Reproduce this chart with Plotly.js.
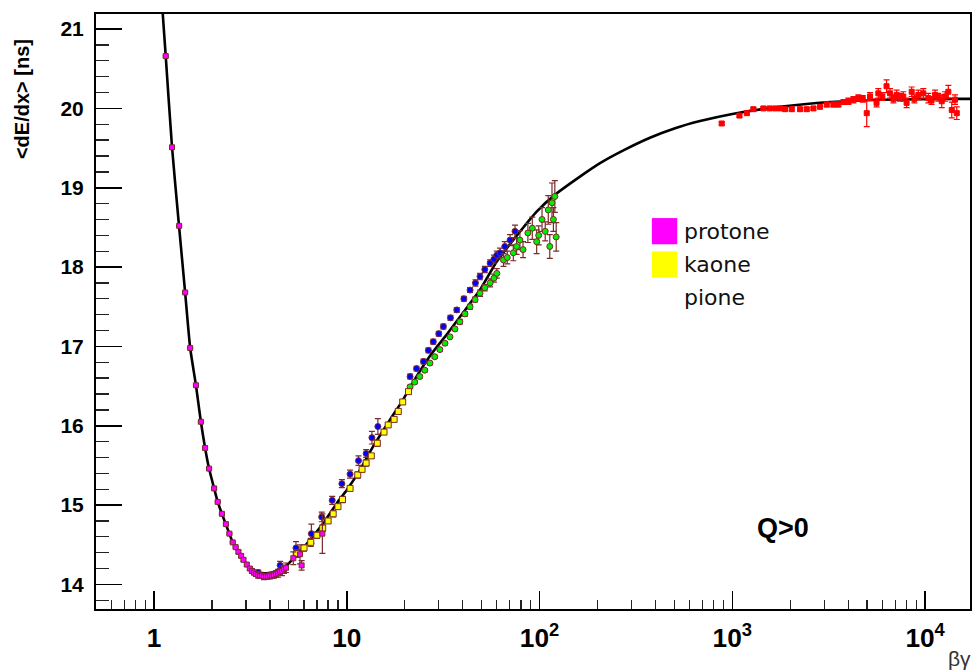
<!DOCTYPE html>
<html>
<head>
<meta charset="utf-8">
<script src="https://cdn.plot.ly/plotly-3.0.1.min.js"></script>
<style>html,body{margin:0;padding:0;background:#fff;}#chart{width:975px;height:670px;}</style>
</head>
<body>
<div id="chart"></div>
<script>
// ---- Data ----
// Bethe-Bloch fit curve
var curveBG  = [1.110,1.150,1.240,1.348,1.45,1.54,1.65,1.75,1.84,1.93,2.05,2.14,2.25,2.46,2.56,2.74,2.91,3.14,3.47,3.84,4.33,4.88,5.50,6.44,7.55,8.86,10.0,11.7,13.7,16.7,19.6,22.2,27,33,40,49,60,75.2,96.6,120,162,206,277,374,505,680,1000,1770,3215,5840,14660,17300];
var curveVal = [21.19,20.66,19.51,18.52,17.68,16.98,16.51,16.05,15.72,15.46,15.21,15.04,14.89,14.64,14.53,14.41,14.31,14.20,14.15,14.14,14.17,14.24,14.37,14.56,14.77,15.02,15.19,15.44,15.74,16.07,16.33,16.56,16.88,17.15,17.42,17.71,18.07,18.38,18.70,18.91,19.14,19.31,19.48,19.63,19.75,19.84,19.93,20.02,20.08,20.11,20.12,20.12];

// protone (magenta)
var protonBG  = [1.15,1.24,1.35,1.45,1.54,1.65,1.75,1.84,1.93,2.05,2.14,2.25,2.36,2.46,2.56,2.65,2.74,2.83,2.91,3.03,3.14,3.22,3.30,3.38,3.47,3.55,3.63,3.72,3.81,3.90,4.00,4.10,4.19,4.30,4.40,4.50,4.61,4.72,4.84,5.28,5.72,5.83,7.47];
var protonVal = [20.66,19.51,18.52,17.68,16.98,16.51,16.05,15.72,15.46,15.21,15.04,14.89,14.76,14.64,14.53,14.47,14.41,14.36,14.31,14.25,14.20,14.17,14.15,14.13,14.12,14.11,14.11,14.10,14.10,14.10,14.11,14.11,14.12,14.13,14.14,14.16,14.17,14.19,14.21,14.33,14.38,14.24,14.64];
var protonErr = [0.01,0.01,0.01,0.01,0.01,0.01,0.01,0.01,0.01,0.01,0.01,0.01,0.01,0.01,0.01,0.01,0.02,0.02,0.02,0.02,0.02,0.03,0.03,0.03,0.04,0.03,0.03,0.04,0.03,0.03,0.04,0.03,0.04,0.04,0.05,0.04,0.06,0.05,0.06,0.08,0.12,0.06,0.25];

// kaone (yellow)
var kaonBG  = [5.5,6.0,6.5,7.0,7.5,8.0,8.5,9.0,9.5,10.4,11.4,12.0,12.6,13.4,14.4,15.6,16.4,17.6,18.5,19.5,20.9];
var kaonVal = [14.39,14.46,14.53,14.62,14.71,14.80,14.89,14.98,15.07,15.21,15.38,15.45,15.53,15.62,15.78,15.92,16.01,16.08,16.18,16.30,16.43];
var kaonErr = [0.05,0.04,0.05,0.04,0.04,0.03,0.04,0.03,0.04,0.03,0.04,0.03,0.04,0.03,0.04,0.03,0.03,0.03,0.03,0.03,0.03];

// blue series
var blueBG  = [3.47,4.51,5.45,6.55,7.41,8.4,9.43,10.4,11.5,12.6,13.5,14.5,21.3,23.0,25.0,26.5,28.1,30.0,31.7,34.5,37.2,40.5,43.6,46.5,49.1,52.0,55.4,58.0,60.0,62.4,66.0,70.3,74.6];
var blueVal = [14.15,14.24,14.46,14.64,14.85,15.06,15.27,15.39,15.56,15.65,15.85,15.99,16.62,16.72,16.81,16.95,17.06,17.16,17.25,17.36,17.46,17.60,17.71,17.80,17.88,17.97,18.05,18.10,18.15,18.18,18.26,18.34,18.45];
var blueErr = [0.03,0.05,0.08,0.12,0.06,0.05,0.05,0.05,0.06,0.05,0.08,0.10,0.03,0.03,0.03,0.03,0.03,0.03,0.03,0.03,0.03,0.03,0.03,0.04,0.04,0.04,0.04,0.05,0.05,0.06,0.06,0.07,0.08];

// pione (green)
var pionBG  = [21.3,22.5,23.9,25.4,27.0,28.6,30.4,32.3,34.3,36.4,38.6,41.0,43.6,46.3,49.1,52.0,55.4,58.0,60.0,65.0,68.0,73.1,76.0,79.1,82.1,87.0,91.7,96.6,99.0,103,107,111,113,116,118,120,122];
var pionVal = [16.49,16.55,16.62,16.70,16.79,16.87,16.96,17.04,17.12,17.22,17.31,17.41,17.50,17.59,17.67,17.74,17.80,17.86,17.92,18.09,18.12,18.18,18.26,18.34,18.22,18.43,18.49,18.32,18.40,18.60,18.45,18.72,18.26,18.81,18.60,18.89,18.38];
var pionErr = [0.02,0.02,0.02,0.02,0.02,0.02,0.02,0.02,0.02,0.02,0.03,0.03,0.03,0.03,0.04,0.04,0.05,0.05,0.06,0.08,0.08,0.10,0.10,0.12,0.10,0.12,0.14,0.15,0.12,0.15,0.12,0.18,0.15,0.25,0.15,0.20,0.18];

// red series (high beta-gamma)
var redBG  = [881,1089,1190,1286,1449,1560,1667,1770,1879,2034,2245,2432,2635,2852,3090,3343,3550,3780,4000,4250,4506,4750,4981,5180,5600,5720,6000,6310,6580,6850,7120,7400,7710,8020,8520,8800,9230,9790,10400,10800,11270,11700,12200,12700,13200,13750,14300,14600];
var redVal = [19.81,19.91,19.94,19.99,20.00,20.00,20.00,20.00,19.99,19.99,19.99,19.99,20.00,20.02,20.05,20.05,20.05,20.08,20.09,20.11,20.13,20.12,19.94,20.15,20.07,20.19,20.15,20.28,20.19,20.12,20.17,20.14,20.15,20.07,20.21,20.12,20.17,20.19,20.13,20.10,20.17,20.14,20.09,20.15,20.21,19.98,20.11,19.94];
var redErr = [0.02,0.02,0.02,0.02,0.02,0.02,0.02,0.02,0.02,0.02,0.02,0.02,0.02,0.02,0.03,0.03,0.03,0.03,0.04,0.04,0.04,0.04,0.17,0.05,0.05,0.06,0.05,0.08,0.06,0.05,0.06,0.05,0.06,0.06,0.06,0.05,0.06,0.06,0.06,0.05,0.06,0.05,0.08,0.06,0.08,0.10,0.06,0.08];

// legend labels
var legendLabels = ["protone", "kaone", "pione"];
var legendColors = ["#ff00ff", "#ffff00", null];

// ---- Styling / drawing ----
var brown = "#7a2c2c";
function pts(x, y, e, color, sym, size, barColor) {
  return {
    x: x, y: y, type: "scatter", mode: "markers", showlegend: false, hoverinfo: "skip",
    marker: {color: color, symbol: sym, size: size, line: {color: barColor, width: 1}},
    error_y: {type: "data", array: e, visible: true, color: barColor, thickness: 1.2, width: 3},
    error_x: {type: "percent", value: 2.5, visible: true, color: barColor, thickness: 1.2, width: 0}
  };
}

var traces = [
  {x: curveBG, y: curveVal, type: "scatter", mode: "lines", line: {color: "#000", width: 2.6, shape: "spline", smoothing: 0.5}, showlegend: false, hoverinfo: "skip"},
  pts(redBG, redVal, redErr, "#ff0000", "square", 5, "#ff0000"),
  pts(blueBG, blueVal, blueErr, "#0000ff", "circle", 6, brown),
  pts(pionBG, pionVal, pionErr, "#00ee00", "circle", 6, brown),
  pts(kaonBG, kaonVal, kaonErr, "#ffff00", "square", 6, brown),
  pts(protonBG, protonVal, protonErr, "#ff00ff", "square", 5, brown)
];

var tickFont = {family: "Liberation Sans, Arial, sans-serif", size: 21, color: "#000", weight: "bold"};

// legend layout in paper coordinates
var legX0 = 0.636, legW = 0.029, legTop = 0.657, legStep = 0.056, legH = 0.044;
var shapes = [], annotations = [];
legendLabels.forEach(function (lab, i) {
  var yc = legTop - legH / 2 - i * legStep;
  if (legendColors[i]) {
    shapes.push({type: "rect", xref: "paper", yref: "paper", x0: legX0, x1: legX0 + legW, y0: yc - legH / 2, y1: yc + legH / 2,
      fillcolor: legendColors[i], line: {width: 0}});
  }
  annotations.push({xref: "paper", yref: "paper", x: legX0 + legW + 0.006, y: yc, xanchor: "left", yanchor: "middle",
    text: lab, showarrow: false, font: {family: "DejaVu Sans, sans-serif", size: 22, color: "#111"}});
});

annotations.push({xref: "paper", yref: "paper", x: -0.0847, y: 0.857, xanchor: "center", yanchor: "middle", textangle: -90,
  text: "&lt;dE/dx&gt; [ns]", showarrow: false, font: {family: "Liberation Sans, Arial, sans-serif", size: 20, color: "#000", weight: "bold"}});
annotations.push({xref: "paper", yref: "paper", x: 1.004, y: -0.083, xanchor: "right", yanchor: "middle",
  text: "βγ", showarrow: false, font: {family: "Liberation Sans, Arial, sans-serif", size: 21, color: "#333"}});
annotations.push({xref: "paper", yref: "paper", x: 0.786, y: 0.136, xanchor: "center", yanchor: "middle",
  text: "Q&gt;0", showarrow: false, font: {family: "Liberation Sans, Arial, sans-serif", size: 27, color: "#000", weight: "bold"}});

var layout = {
  width: 975, height: 670,
  margin: {l: 96, r: 5, t: 14, b: 61, pad: 0},
  paper_bgcolor: "#fff", plot_bgcolor: "#fff",
  showlegend: false,
  xaxis: {
    type: "log", range: [-0.301, 4.233], dtick: 1, exponentformat: "power",
    ticks: "inside", ticklen: 18, tickwidth: 1.6, tickcolor: "#000",
    showline: true, linewidth: 2, linecolor: "#000", mirror: true,
    showgrid: false, zeroline: false, tickfont: tickFont, ticklabelstandoff: 6,
    minor: {ticks: "inside", ticklen: 9, tickwidth: 1.3, tickcolor: "#222", dtick: "D1", showgrid: false}
  },
  yaxis: {
    range: [13.69, 21.19], dtick: 1, tick0: 0,
    ticks: "inside", ticklen: 26, tickwidth: 1.6, tickcolor: "#000",
    showline: true, linewidth: 2, linecolor: "#000", mirror: true,
    showgrid: false, zeroline: false, tickfont: tickFont, ticklabelstandoff: 6,
    minor: {ticks: "inside", ticklen: 13, tickwidth: 1.3, tickcolor: "#222", dtick: 0.2, showgrid: false}
  },
  shapes: shapes,
  annotations: annotations
};

Plotly.newPlot("chart", traces, layout, {displayModeBar: false, staticPlot: true});
</script>
</body>
</html>
